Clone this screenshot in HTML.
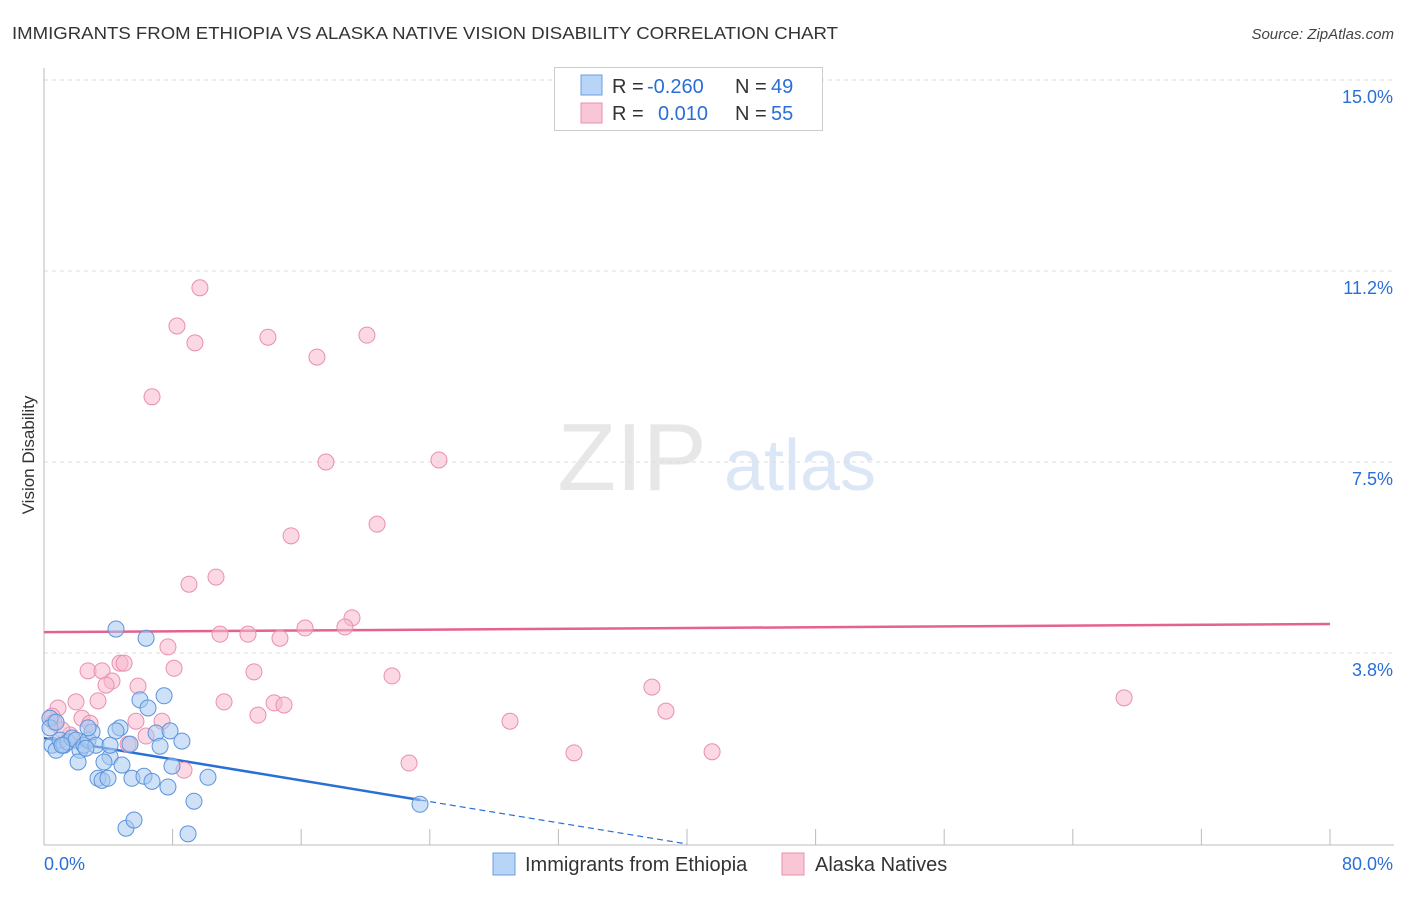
<!DOCTYPE html>
<html><head><meta charset="utf-8"><style>
body{margin:0;background:#fff;font-family:"Liberation Sans",sans-serif;}
svg text{font-family:"Liberation Sans",sans-serif;}
</style></head><body>
<svg id="chart" width="1406" height="892" viewBox="0 0 1406 892" xmlns="http://www.w3.org/2000/svg">
<text x="12" y="39" font-size="17.5" fill="#333" textLength="826" lengthAdjust="spacingAndGlyphs">IMMIGRANTS FROM ETHIOPIA VS ALASKA NATIVE VISION DISABILITY CORRELATION CHART</text>
<text x="1394" y="39" font-size="15" fill="#444" text-anchor="end" font-style="italic">Source: ZipAtlas.com</text>
<text transform="translate(34,455) rotate(-90)" font-size="17" fill="#333" text-anchor="middle">Vision Disability</text>
<g>
<text x="632" y="490" font-size="96" fill="#d8d8d8" text-anchor="middle" font-family="Liberation Serif,serif" opacity="0.6">ZIP</text>
<text x="800" y="490" font-size="72" fill="#b8d0ee" text-anchor="middle" opacity="0.5">atlas</text>
</g>
<g id="grid"></g>
<g id="axes"></g>
<g id="lines"></g>
<g id="points"></g>
<g>
<rect x="554.5" y="67.5" width="268" height="63" fill="#fff" stroke="#ccc"/>
<rect x="581" y="75" width="21" height="20" fill="#b8d4f6" stroke="#6a9fe0"/>
<rect x="581" y="103" width="21" height="20" fill="#f9c6d6" stroke="#e890ae"/>
<text x="612" y="93" font-size="20" fill="#333">R =</text>
<text x="647" y="93" font-size="20" fill="#2a6fd6">-0.260</text>
<text x="735" y="93" font-size="20" fill="#333">N =</text>
<text x="771" y="93" font-size="20" fill="#2a6fd6">49</text>
<text x="612" y="120" font-size="20" fill="#333">R =</text>
<text x="658" y="120" font-size="20" fill="#2a6fd6">0.010</text>
<text x="735" y="120" font-size="20" fill="#333">N =</text>
<text x="771" y="120" font-size="20" fill="#2a6fd6">55</text>
</g>
<g>
<rect x="493" y="853" width="22" height="22" fill="#b8d4f6" stroke="#6a9fe0"/>
<text x="525" y="871" font-size="20" fill="#333">Immigrants from Ethiopia</text>
<rect x="782" y="853" width="22" height="22" fill="#f9c6d6" stroke="#e890ae"/>
<text x="815" y="871" font-size="20" fill="#333">Alaska Natives</text>
</g>
</svg>
<script>
const yTicks=[3.75,7.5,11.25,15];
const yTickLabels=["3.8%","7.5%","11.2%","15.0%"];
const xTickCount=10;
const blueX=[0.37,0.5,0.75,1.0,1.24,1.49,1.74,1.99,2.24,2.49,2.74,2.99,3.23,0.37,0.75,2.74,4.48,6.35,5.97,7.47,6.47,4.73,5.35,6.97,7.84,8.58,7.22,4.11,3.73,2.12,4.85,3.36,3.61,3.98,5.47,6.22,6.72,7.96,10.2,7.71,9.33,23.39,5.1,5.6,8.96,4.48,4.11,1.12,2.61];
const blueY=[2.47,1.94,1.84,2.04,1.94,2.0,2.08,2.04,1.84,1.94,2.04,2.2,1.94,2.28,2.39,2.28,4.22,4.04,2.83,2.91,2.67,2.28,1.96,2.18,2.22,2.02,1.92,1.71,1.61,1.61,1.55,1.29,1.25,1.29,1.29,1.33,1.23,1.53,1.31,1.12,0.84,0.78,0.31,0.47,0.2,2.22,1.94,1.94,1.88];
const pinkX=[9.7,8.27,9.39,13.93,20.09,16.98,6.72,17.54,24.57,20.72,15.37,10.7,9.02,19.16,18.72,16.24,10.95,12.69,14.68,7.71,4.73,4.98,2.74,3.61,8.09,13.06,21.65,4.23,3.86,5.85,3.36,1.99,0.87,11.2,14.31,14.93,13.31,0.5,0.62,2.36,2.86,5.72,7.34,28.99,37.82,38.69,67.19,41.56,32.97,22.71,8.71,5.23,6.35,1.62,1.12];
const pinkY=[10.92,10.17,9.84,9.95,9.99,9.56,8.78,7.5,7.54,6.28,6.05,5.24,5.1,4.44,4.26,4.24,4.12,4.12,4.04,3.87,3.55,3.55,3.4,3.4,3.45,3.38,3.3,3.2,3.12,3.1,2.81,2.79,2.67,2.79,2.77,2.73,2.53,2.51,2.39,2.47,2.37,2.41,2.41,2.41,3.08,2.61,2.87,1.81,1.79,1.59,1.45,1.96,2.12,2.14,2.24];
const blueTrend=[2.08,-0.52];   // value at x=0, slope per 10%
const blueTrendEnd=23.4;
const pinkTrend=[4.16,0.02];
const NS="http://www.w3.org/2000/svg";
const X0=44,X1=1330,Y0=844,YT=80;
const sx=v=>X0+(v/80)*(X1-X0);
const sy=v=>Y0-(v/15)*(Y0-YT);
function mk(tag,attrs,parent){const e=document.createElementNS(NS,tag);for(const k in attrs)e.setAttribute(k,attrs[k]);parent.appendChild(e);return e;}
const grid=document.getElementById('grid'),axes=document.getElementById('axes'),lines=document.getElementById('lines'),pts=document.getElementById('points');
yTicks.forEach((t,i)=>{
 const l=mk('line',{x1:X0,x2:1394,y1:sy(t),y2:sy(t),stroke:'#ddd','stroke-dasharray':'4,4'},grid);
 
 
 const tx=mk('text',{x:1393,y:sy(t)+23,'font-size':18,fill:'#2a6fd6','text-anchor':'end'},axes);
 tx.textContent=yTickLabels[i];
 
 
});
const ax=mk('line',{x1:X0,x2:X0,y1:68,y2:Y0,stroke:'#bbb'},axes);


const bx=mk('line',{x1:X0,x2:1394,y1:Y0+1,y2:Y0+1,stroke:'#bbb'},axes);


for(let i=0;i<=xTickCount;i++){
 const v=i*80/xTickCount;
 const t=mk('line',{x1:sx(v),x2:sx(v),y1:Y0-15,y2:Y0+1,stroke:'#bbb'},axes);
 
 
}
const xl0=mk('text',{x:44,y:870,'font-size':18,fill:'#2a6fd6'},axes);xl0.textContent='0.0%';


const xl1=mk('text',{x:1393,y:870,'font-size':18,fill:'#2a6fd6','text-anchor':'end'},axes);xl1.textContent='80.0%';


function dot(x,y,fill,stroke,name){
 const c=mk('circle',{cx:sx(x),cy:sy(y),r:8,fill:fill,'fill-opacity':0.55,stroke:stroke,'stroke-width':1},pts);
 
 
}
pinkX.forEach((x,i)=>dot(x,pinkY[i],'#f7b8cc','#e890ae','alaska-native-point'));
blueX.forEach((x,i)=>dot(x,blueY[i],'#a8c8f0','#5b93dc','ethiopia-point'));
const bf=v=>blueTrend[0]+blueTrend[1]*v/10;
const pf=v=>pinkTrend[0]+pinkTrend[1]*v/10;
const pl=mk('line',{x1:sx(0),x2:sx(80),y1:sy(pf(0)),y2:sy(pf(80)),stroke:'#e4628f','stroke-width':2.5},lines);


const bl=mk('line',{x1:sx(0),x2:sx(blueTrendEnd),y1:sy(bf(0)),y2:sy(bf(blueTrendEnd)),stroke:'#2a6fd6','stroke-width':2.5},lines);


const xEnd=-blueTrend[0]/blueTrend[1]*10;
const bd=mk('line',{x1:sx(blueTrendEnd),x2:sx(xEnd),y1:sy(bf(blueTrendEnd)),y2:sy(0),stroke:'#2a6fd6','stroke-width':1.2,'stroke-dasharray':'6,4'},lines);


</script>
</body></html>
